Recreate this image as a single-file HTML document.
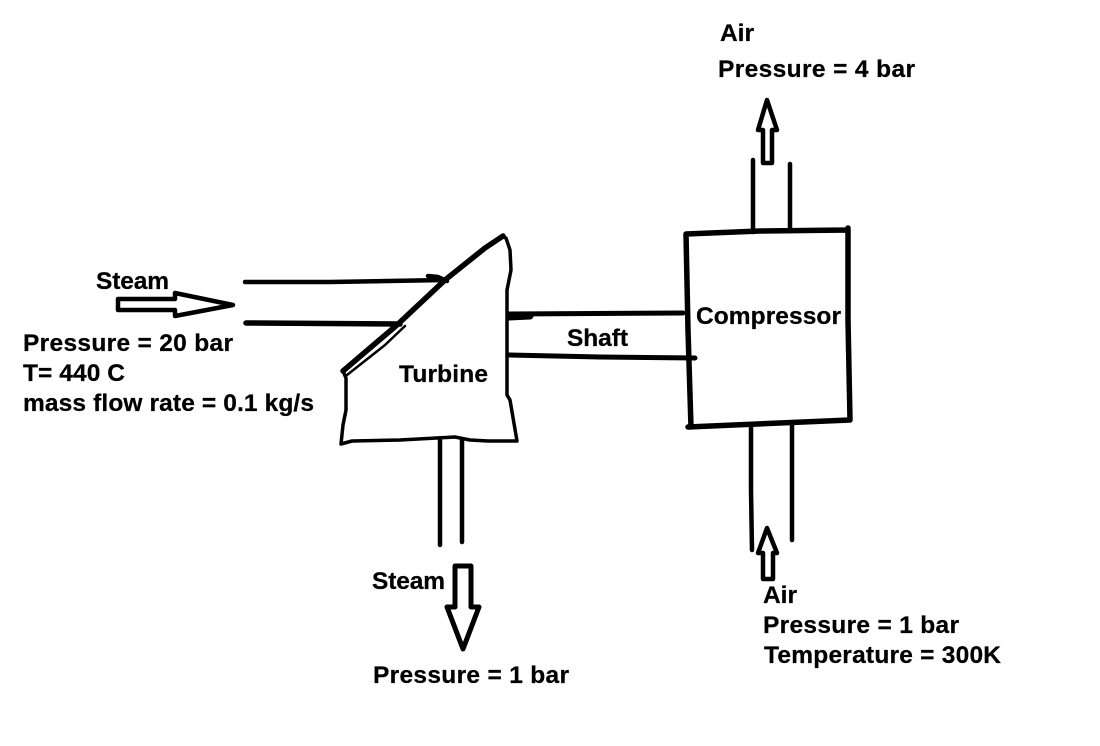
<!DOCTYPE html>
<html>
<head>
<meta charset="utf-8">
<style>
html,body{margin:0;padding:0;background:#fff}
svg{display:block}
text{font-family:"Liberation Sans",sans-serif;font-weight:bold;font-size:24.5px;fill:#000;stroke:#000;stroke-width:.25px}
path{fill:none;stroke:#000;stroke-linecap:round;stroke-linejoin:round}
</style>
</head>
<body>
<svg width="1100" height="746" viewBox="0 0 1100 746" xmlns="http://www.w3.org/2000/svg">
<rect width="1100" height="746" fill="#fff"/>

<!-- steam inlet -->
<path stroke-width="4.5" d="M245 282L330 282L445 280M428 276L438 277L447 281"/>
<path stroke-width="5.5" d="M246 323L400 324"/>
<path stroke-width="4.5" d="M118 299L175 299L175 293L233 305L175 316L175 310L118 310Z"/>

<!-- turbine -->
<path stroke-width="3.5" d="M343 371L346 378L346 410L343 425L341 444L352 441L400 440L455 437L470 440L488 441L517 441L510 400L507 395L507 290L511 270L510 250L506 238L503 237"/>
<path stroke-width="5.5" d="M343 371L397 325L445 280L485 248L503 236"/>
<path stroke-width="2.5" d="M347 375L385 345L405 326"/>

<!-- shaft -->
<path stroke-width="5" d="M509 314L683 313"/>
<path stroke-width="7" d="M509 317L530 316"/>
<path stroke-width="5" d="M509 355L600 357L695 358"/>

<!-- compressor -->
<path stroke-width="5.5" d="M686 234L760 231L848 230M848 228L848 320L850 420L688 427M686 234L688 330L691 427"/>

<!-- compressor top -->
<path stroke-width="4.5" d="M753 160L753 232M790 164L790 231"/>
<path stroke-width="4.5" d="M763 163L763 130L758 130L767 100L777 130L772 130L772 163Z"/>

<!-- compressor bottom -->
<path stroke-width="4.5" d="M751 425L751 490L752 550M792 425L792 540"/>
<path stroke-width="4.5" d="M763 579L763 553L758 553L767 528L777 553L773 553L773 579Z"/>

<!-- turbine outlet -->
<path stroke-width="4.5" d="M440 440L440 545M462 440L462 542"/>
<path stroke-width="5" d="M455 566L471 566L471 607L479 607L463 649L447 607L455 607Z"/>

<text x="96" y="289" textLength="73">Steam</text>
<text x="23" y="351" textLength="210">Pressure = 20 bar</text>
<text x="23" y="381" textLength="102">T= 440 C</text>
<text x="23" y="411" textLength="291">mass flow rate = 0.1 kg/s</text>
<text x="399" y="382" textLength="89">Turbine</text>
<text x="567" y="346" textLength="61">Shaft</text>
<text x="696" y="324" textLength="145">Compressor</text>
<text x="720" y="41" textLength="34">Air</text>
<text x="718" y="77" textLength="197">Pressure = 4 bar</text>
<text x="372" y="589" textLength="73">Steam</text>
<text x="373" y="683" textLength="196">Pressure = 1 bar</text>
<text x="763" y="603" textLength="34">Air</text>
<text x="763" y="633" textLength="196">Pressure = 1 bar</text>
<text x="764" y="663" textLength="237">Temperature = 300K</text>
</svg>
</body>
</html>
